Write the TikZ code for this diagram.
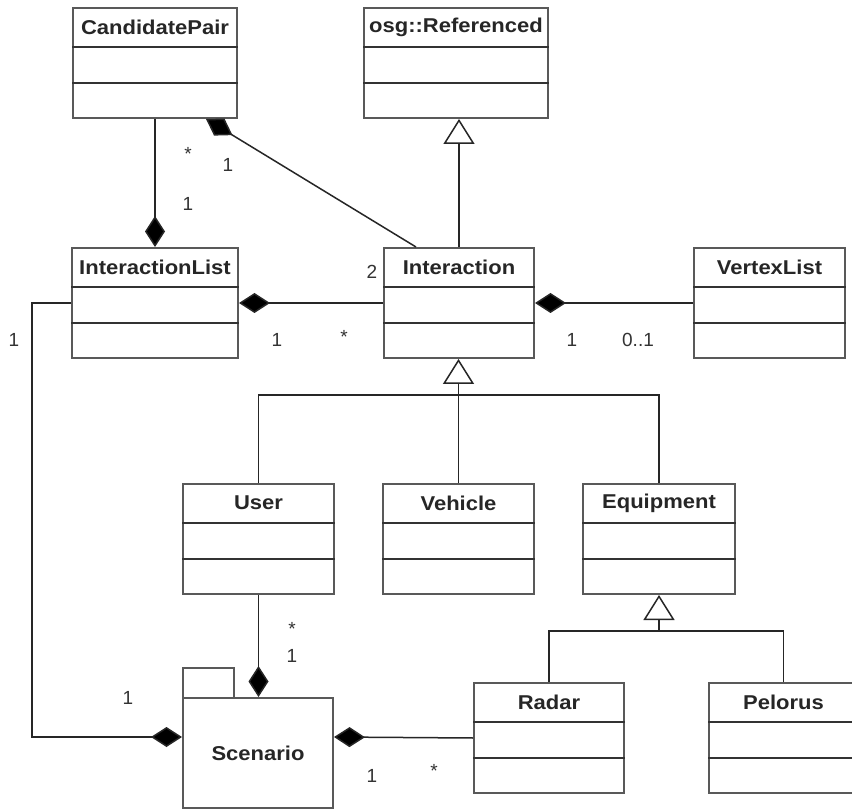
\documentclass[tikz,border=0pt]{standalone}
\usepackage{fontspec}
\setmainfont{Liberation Sans}
\usepackage{graphicx}
\usetikzlibrary{arrows.meta,fit,calc}

\tikzset{
  classbox/.style={draw=black!65, line width=2pt, inner sep=0pt, fill=white},
  classname/.style={font=\bfseries\fontsize{20}{24}\selectfont, text=black!85, inner sep=0pt},
  divider/.style={draw=black!80, line width=1.6pt},
  mult/.style={font=\fontsize{19}{22}\selectfont, text=black!80, inner sep=0pt},
  assoc/.style={draw=black!85, line width=1.5pt},
  compstart/.style={assoc, {Diamond[length=31pt,width=20pt,fill=black]}-},
  compend/.style={assoc, -{Diamond[length=31pt,width=20pt,fill=black]}},
  genend/.style={assoc, -{Triangle[length=25pt,width=31pt,fill=white]}},
}

% a UML class: name, corners (x1,y1) (x2,y2), title
\newcommand\umlclass[6]{%
  \node[classbox, fit={(#2,#3) (#4,#5)}] (#1) {};
  \draw[divider] ($(#1.north west)+(0,40)$) -- ($(#1.north east)+(0,40)$);
  \draw[divider] ($(#1.north west)+(0,76)$) -- ($(#1.north east)+(0,76)$);
  \node[classname] at ($(#1.north)+(0,20)$) {\scalebox{1.1}[1]{#6}};
}

\begin{document}
\begin{tikzpicture}[x=1pt,y=-1pt]
\useasboundingbox[fill=white] (0,0) rectangle (852,810);
\clip (0,0) rectangle (852,810);

% classes
\umlclass{CandidatePair}{73}{8}{237}{118}{CandidatePair}
\umlclass{Referenced}{364}{8}{548}{118}{osg::Referenced}
\umlclass{InteractionList}{72}{248}{238}{358}{InteractionList}
\umlclass{Interaction}{384}{248}{534}{358}{Interaction}
\umlclass{VertexList}{694}{248}{845}{358}{VertexList}
\umlclass{User}{183}{484}{334}{594}{User}
\umlclass{Vehicle}{383}{484}{534}{594}{Vehicle}
\umlclass{Equipment}{583}{484}{735}{594}{Equipment}
\umlclass{Radar}{474}{683}{624}{793}{Radar}
\umlclass{Pelorus}{709}{683}{858}{793}{Pelorus}

% Scenario package-like box
\node[classbox, fit={(183,668) (234,698)}] (ScenarioTab) {};
\node[classbox, fit={(183,698) (333,808)}] (Scenario) {};
\node[classname] at (Scenario.center) {\scalebox{1.1}[1]{Scenario}};

% junction points of the generalization trees
\coordinate (ijoin) at (459,395);
\coordinate (ejoin) at (659,631);

% generalizations
\draw[genend] (Interaction.north) -- (Interaction.north |- Referenced.south);
\draw[assoc] (User.north) |- (ijoin);
\draw[assoc] (Equipment.north) |- (ijoin);
\draw[genend] (Vehicle.north) -- (Vehicle.north |- Interaction.south);
\draw[assoc] (Radar.north) |- (ejoin);
\draw[assoc] (Pelorus.north) |- (ejoin);
\draw[genend] (ejoin) -- (ejoin |- Equipment.south);

% compositions
\draw[compend] (CandidatePair.south) -- (CandidatePair.south |- InteractionList.north);
\draw[compstart] ($(CandidatePair.south east)+(-32,0)$) -- ($(Interaction.north west)+(33,0)$);
\draw[compstart] (InteractionList.east) -- (Interaction.west);
\draw[compstart] (Interaction.east) -- (VertexList.west);
\draw[compend] (InteractionList.west) -- ++(-39,0) |- ($(Scenario.north west)+(0,40)$);
\draw[compend] (User.south) -- (User.south |- Scenario.north);
\draw[compstart] ($(Scenario.north east)+(0,40)$) -- (Radar.west);

% multiplicities
\node[mult] (m1) at (188,154) {*};
\node[mult] (m2) at (228,165) {1};
\node[mult] (m3) at (188,204) {1};
\node[mult] (m4) at (14,340) {1};
\node[mult] (m5) at (372,272) {2};
\node[mult] (m6) at (277,340) {1};
\node[mult] (m7) at (344,337) {*};
\node[mult] (m8) at (572,340) {1};
\node[mult] (m9) at (638,340) {0..1};
\node[mult] (m10) at (292,629) {*};
\node[mult] (m11) at (292,656) {1};
\node[mult] (m12) at (128,698) {1};
\node[mult] (m13) at (372,776) {1};
\node[mult] (m14) at (434,771) {*};
\end{tikzpicture}
\end{document}
